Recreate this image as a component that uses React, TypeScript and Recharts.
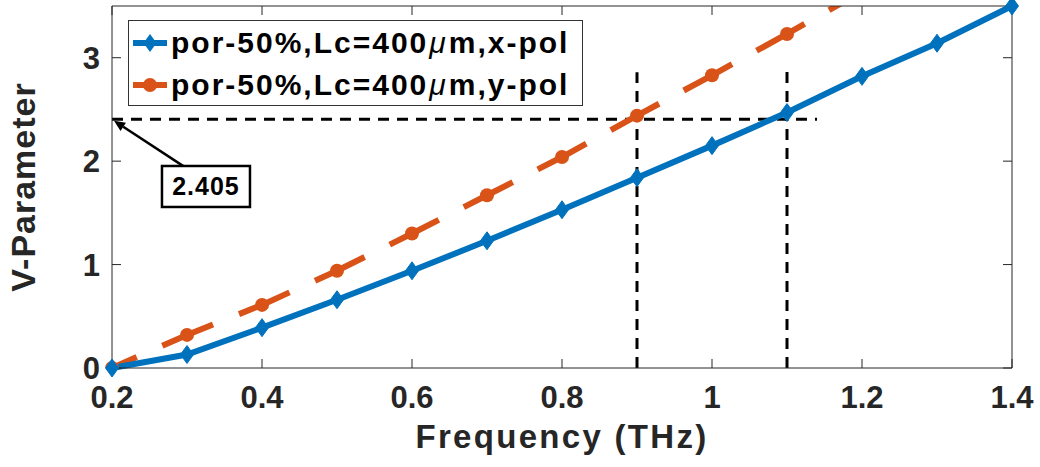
import {
  LineChart,
  Line,
  XAxis,
  YAxis,
  ReferenceLine,
  ReferenceDot,
  Legend,
} from "recharts";

// frequency (THz) and V-parameter per polarisation
const freq = [0.2, 0.3, 0.4, 0.5, 0.6, 0.7, 0.8, 0.9, 1.0, 1.1, 1.2, 1.3, 1.4];
const xPol = [0.0, 0.13, 0.39, 0.66, 0.94, 1.23, 1.53, 1.84, 2.15, 2.47, 2.82, 3.14, 3.5];
const yPol = [0.0, 0.32, 0.61, 0.94, 1.3, 1.67, 2.04, 2.44, 2.83, 3.23, 3.64, null, null];

const xTicks = [0.2, 0.4, 0.6, 0.8, 1, 1.2, 1.4];
const yTicks = [0, 1, 2, 3];

// annotation: single-mode cutoff
const cutoff = 2.405;
const cutoffEnd = 1.14;
const markFreqs = [0.9, 1.1];
const markTops = [2.86, 2.9];
const arrowTail = { x: 0.2987, y: 1.935 };
const arrowHead = { x: 0.2027, y: 2.39 };
const boxCenter = { x: 0.3253, y: 1.755 };

const data = freq.map((f, i) => ({ f, x: xPol[i], y: yPol[i] }));

const BLUE = "#0072BD";
const ORANGE = "#D95319";
const AXIS = "#262626";
const FONT = "'Liberation Sans', Arial, Helvetica, sans-serif";

const tickStyle = { fontSize: 31, fontWeight: 700, fill: AXIS, fontFamily: FONT };

function Diamond(props: any) {
  const { cx, cy, index } = props;
  if (cx == null || cy == null) return <g key={`d-${index}`} />;
  return (
    <polygon
      key={`d-${index}`}
      points={`${cx},${cy - 9} ${cx + 6.5},${cy} ${cx},${cy + 9} ${cx - 6.5},${cy}`}
      fill={BLUE}
      stroke={BLUE}
      strokeWidth={1}
    />
  );
}

function Circle(props: any) {
  const { cx, cy, index } = props;
  if (cx == null || cy == null) return <g key={`c-${index}`} />;
  return <circle key={`c-${index}`} cx={cx} cy={cy} r={7} fill={ORANGE} />;
}

function LegendBox() {
  const rows = [
    { color: BLUE, marker: "d", pol: "x-pol" },
    { color: ORANGE, marker: "o", pol: "y-pol" },
  ];
  return (
    <div
      style={{
        width: 453,
        height: 84,
        border: "1px solid #333",
        background: "#fff",
        fontFamily: FONT,
        fontWeight: 700,
        fontSize: 30,
        letterSpacing: 2,
        color: "#000",
        boxSizing: "content-box",
      }}
    >
      {rows.map((r) => (
        <div
          key={r.pol}
          style={{ display: "flex", alignItems: "center", height: 40, marginTop: 2 }}
        >
          <svg width={40} height={20} style={{ marginLeft: 2, marginRight: 0 }}>
            <line x1={2} y1={10} x2={36} y2={10} stroke={r.color} strokeWidth={6} />
            {r.marker === "d" ? (
              <polygon points="19,1 25.5,10 19,19 12.5,10" fill={r.color} />
            ) : (
              <circle cx={19} cy={10} r={7} fill={r.color} />
            )}
          </svg>
          <span style={{ whiteSpace: "nowrap" }}>
            por-50%,Lc=400
            <span style={{ fontStyle: "italic", fontWeight: 400, margin: "0 1px" }}>μ</span>
            m,{r.pol}
          </span>
        </div>
      ))}
    </div>
  );
}

export default function App() {
  return (
    <div style={{ position: "absolute", left: 0, top: 0, background: "#fff" }}>
      <LineChart
        width={1040}
        height={467}
        data={data}
        margin={{ top: 5, right: 27, bottom: 0, left: 0 }}
      >
        <XAxis
          xAxisId="b"
          dataKey="f"
          type="number"
          domain={[0.2, 1.4]}
          ticks={xTicks}
          tickFormatter={(v: number) => String(Number(v.toFixed(1)))}
          height={99}
          tickSize={-9}
          tickMargin={27}
          tick={tickStyle}
          stroke={AXIS}
          label={{
            content: (p: any) => (
              <text
                x={p.viewBox.x + p.viewBox.width / 2}
                y={p.viewBox.y + 80}
                textAnchor="middle"
                fontSize={33}
                fontWeight={700}
                letterSpacing={2.3}
                fill={AXIS}
                fontFamily={FONT}
              >
                Frequency (THz)
              </text>
            ),
          }}
        />
        <XAxis
          xAxisId="t"
          orientation="top"
          type="number"
          dataKey="f"
          domain={[0.2, 1.4]}
          ticks={xTicks}
          height={1}
          tickSize={-9}
          tick={() => <g />}
          stroke={AXIS}
        />
        <YAxis
          yAxisId="l"
          type="number"
          domain={[0, 3.5]}
          ticks={yTicks}
          width={112}
          tickSize={-9}
          tickMargin={21}
          tick={tickStyle}
          stroke={AXIS}
          allowDataOverflow
          label={{
            content: (p: any) => (
              <text
                transform={`translate(35, ${p.viewBox.y + p.viewBox.height / 2}) rotate(-90)`}
                textAnchor="middle"
                fontSize={34}
                fontWeight={700}
                letterSpacing={1}
                fill={AXIS}
                fontFamily={FONT}
              >
                V-Parameter
              </text>
            ),
          }}
        />
        <YAxis
          yAxisId="r"
          orientation="right"
          type="number"
          domain={[0, 3.5]}
          ticks={yTicks}
          width={1}
          tickSize={-9}
          tick={() => <g />}
          stroke={AXIS}
        />

        <ReferenceLine
          xAxisId="b"
          yAxisId="l"
          segment={[
            { x: 0.2, y: cutoff },
            { x: cutoffEnd, y: cutoff },
          ]}
          stroke="#000"
          strokeWidth={3}
          strokeDasharray="11 8"
        />
        {markFreqs.map((f, i) => (
          <ReferenceLine
            key={f}
            xAxisId="b"
            yAxisId="l"
            segment={[
              { x: f, y: 0 },
              { x: f, y: markTops[i] },
            ]}
            stroke="#000"
            strokeWidth={3}
            strokeDasharray="11 8"
          />
        ))}

        <Line
          xAxisId="b"
          yAxisId="l"
          dataKey="y"
          name="por-50%,Lc=400μm,y-pol"
          stroke={ORANGE}
          strokeWidth={6}
          strokeDasharray="55 28"
          strokeDashoffset={28}
          dot={Circle}
          activeDot={false}
          isAnimationActive={false}
        />
        <Line
          xAxisId="b"
          yAxisId="r"
          dataKey="x"
          name="por-50%,Lc=400μm,x-pol"
          stroke={BLUE}
          strokeWidth={6}
          dot={Diamond}
          activeDot={false}
          isAnimationActive={false}
        />

        <ReferenceLine
          xAxisId="b"
          yAxisId="l"
          segment={[arrowTail, arrowHead]}
          shape={(p: any) => {
            const { x1, y1, x2, y2 } = p;
            const a = Math.atan2(y2 - y1, x2 - x1);
            const L = 11;
            const w = 5;
            const bx = x2 - L * Math.cos(a);
            const by = y2 - L * Math.sin(a);
            const px = -Math.sin(a) * w;
            const py = Math.cos(a) * w;
            return (
              <g>
                <line x1={x1} y1={y1} x2={bx} y2={by} stroke="#000" strokeWidth={2.5} />
                <polygon
                  points={`${x2},${y2} ${bx + px},${by + py} ${bx - px},${by - py}`}
                  fill="#000"
                />
              </g>
            );
          }}
        />
        <ReferenceDot
          xAxisId="b"
          yAxisId="l"
          x={boxCenter.x}
          y={boxCenter.y}
          shape={(p: any) => (
            <g>
              <rect
                x={p.cx - 44}
                y={p.cy - 20.5}
                width={88}
                height={41}
                fill="#fff"
                stroke="#000"
                strokeWidth={2.5}
              />
              <text
                x={p.cx}
                y={p.cy + 9}
                textAnchor="middle"
                fontSize={25}
                fontWeight={700}
                letterSpacing={1}
                fill="#000"
                fontFamily={FONT}
              >
                {cutoff}
              </text>
            </g>
          )}
        />

        <Legend
          layout="horizontal"
          verticalAlign="middle"
          align="center"
          content={() => <LegendBox />}
          wrapperStyle={{ left: 128, top: 20, width: "auto" }}
        />
      </LineChart>
    </div>
  );
}
